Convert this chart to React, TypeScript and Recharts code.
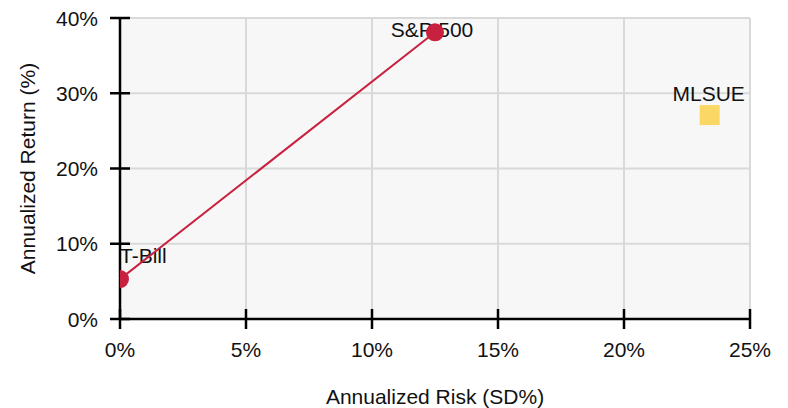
import { ScatterChart, Scatter, XAxis, YAxis, CartesianGrid, Label } from "recharts";

const assets = ["T-Bill", "S&P 500", "MLSUE"];
const riskPct = [0, 12.5, 23.4];
const returnPct = [5.3, 38.1, 27.1];
const xTicks = [0, 5, 10, 15, 20, 25];
const yTicks = [0, 10, 20, 30, 40];

const points = assets.map((name, i) => ({ name, risk: riskPct[i], ret: returnPct[i] }));
const frontier = points.filter((p) => p.name !== "MLSUE");
const alternative = points.filter((p) => p.name === "MLSUE");

// layout
const W = 788;
const H = 408;
const PLOT_LEFT = 120;
const PLOT_TOP = 18;
const PLOT_RIGHT = 750;
const PLOT_BOTTOM = 319;
const FONT = '"Liberation Sans", Arial, sans-serif';
const FS = 21;
const INK = "#111";
const RED = "#c8203f";
const GOLD = "#fbd866";

const labelPlacement: Record<string, { anchor: string; dx: number; dy: number }> = {
  "T-Bill": { anchor: "start", dx: 0, dy: -16 },
  "S&P 500": { anchor: "middle", dx: -3, dy: 5 },
  MLSUE: { anchor: "middle", dx: -1, dy: -14 },
};

const YTick = (props: any) => {
  const { y, payload } = props;
  return (
    <g>
      <line x1={PLOT_LEFT - 10} x2={PLOT_LEFT + 10} y1={y} y2={y} stroke="#000" strokeWidth={2.5} />
      <text x={PLOT_LEFT - 22} y={y} dy="0.36em" textAnchor="end" fontSize={FS} fontFamily={FONT} fill={INK}>
        {payload.value}%
      </text>
    </g>
  );
};

const XTick = (props: any) => {
  const { x, payload } = props;
  return (
    <g>
      <line x1={x} x2={x} y1={PLOT_BOTTOM - 10} y2={PLOT_BOTTOM + 10} stroke="#000" strokeWidth={2.5} />
      <text x={x} y={PLOT_BOTTOM + 38} textAnchor="middle" fontSize={FS} fontFamily={FONT} fill={INK}>
        {payload.value}%
      </text>
    </g>
  );
};

const PointLabel = (props: any) => {
  const { cx, cy, payload } = props;
  const p = labelPlacement[payload.name];
  return (
    <text x={cx + p.dx} y={cy + p.dy} textAnchor={p.anchor} fontSize={FS} fontFamily={FONT} fill={INK}>
      {payload.name}
    </text>
  );
};

// dots are clipped to the plot area, so the T-Bill marker shows only its right half
const RedDot = (props: any) => {
  const id = `dot-clip-${props.index}`;
  return (
    <g>
      <defs>
        <clipPath id={id}>
          <rect x={PLOT_LEFT} y={PLOT_TOP} width={PLOT_RIGHT - PLOT_LEFT} height={PLOT_BOTTOM - PLOT_TOP} />
        </clipPath>
      </defs>
      <circle cx={props.cx} cy={props.cy} r={9} fill={RED} clipPath={`url(#${id})`} />
    </g>
  );
};
const GoldSquare = (props: any) => (
  <rect x={props.cx - 10} y={props.cy - 10} width={20} height={20} fill={GOLD} />
);

export default function App() {
  return (
    <div style={{ position: "fixed", left: 0, top: 0, width: W, height: H, background: "#fff" }}>
      <ScatterChart
        width={W}
        height={H}
        margin={{ top: PLOT_TOP, right: W - PLOT_RIGHT, bottom: 0, left: 0 }}
      >
        <CartesianGrid fill="#f7f7f7" stroke="#d9d9d9" strokeWidth={2} horizontalValues={yTicks} verticalValues={xTicks} />
        <XAxis
          type="number"
          dataKey="risk"
          domain={[0, 25]}
          ticks={xTicks}
          height={H - PLOT_BOTTOM}
          axisLine={{ stroke: "#000", strokeWidth: 2.5 }}
          tickLine={false}
          tick={<XTick />}
          interval={0}
        >
          <Label
            content={(p: any) => (
              <text
                x={p.viewBox.x + p.viewBox.width / 2}
                y={404}
                textAnchor="middle"
                fontSize={FS}
                fontFamily={FONT}
                fill={INK}
              >
                Annualized Risk (SD%)
              </text>
            )}
          />
        </XAxis>
        <YAxis
          type="number"
          dataKey="ret"
          domain={[0, 40]}
          ticks={yTicks}
          width={PLOT_LEFT}
          axisLine={{ stroke: "#000", strokeWidth: 2.5 }}
          tickLine={false}
          tick={<YTick />}
          interval={0}
        >
          <Label
            content={(p: any) => {
              const cx = 27;
              const cy = p.viewBox.y + p.viewBox.height / 2;
              return (
                <text
                  x={cx}
                  y={cy}
                  dy="0.36em"
                  transform={`rotate(-90 ${cx} ${cy})`}
                  textAnchor="middle"
                  fontSize={FS}
                  fontFamily={FONT}
                  fill={INK}
                >
                  Annualized Return (%)
                </text>
              );
            }}
          />
        </YAxis>
        <Scatter data={points} shape={<PointLabel />} isAnimationActive={false} />
        <Scatter
          data={frontier}
          line={{ stroke: RED, strokeWidth: 2 }}
          shape={<RedDot />}
          isAnimationActive={false}
        />
        <Scatter data={alternative} shape={<GoldSquare />} isAnimationActive={false} />
      </ScatterChart>
    </div>
  );
}
